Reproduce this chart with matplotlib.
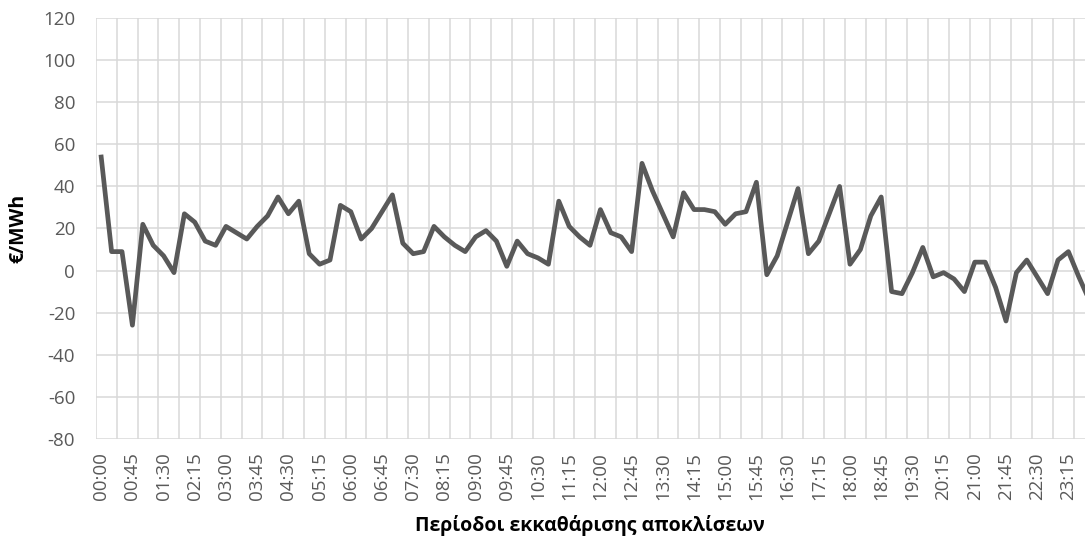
import numpy as np
import matplotlib
matplotlib.use("Agg")
import matplotlib.pyplot as plt

plt.rcParams['font.family'] = ['Open Sans', 'DejaVu Sans']
plt.rcParams['axes.unicode_minus'] = False

# 15-minute settlement periods
times = ["%02d:%02d" % (h, m) for h in range(24) for m in (0, 15, 30, 45)]

prices = [54, 9, 9, -26, 22, 12, 7, -1, 27, 23, 14, 12,
          21, 18, 15, 21, 26, 35, 27, 33, 8, 3, 5, 31,
          28, 15, 20, 28, 36, 13, 8, 9, 21, 16, 12, 9,
          16, 19, 14, 2, 14, 8, 6, 3, 33, 21, 16, 12,
          29, 18, 16, 9, 51, 38, 27, 16, 37, 29, 29, 28,
          22, 27, 28, 42, -2, 7, 23, 39, 8, 14, 27, 40,
          3, 10, 26, 35, -10, -11, -1, 11, -3, -1, -4, -10,
          4, 4, -8, -24, -1, 5, -3, -11, 5, 9, -3, -14]

y_ticks = list(range(-80, 121, 20))

fig = plt.figure(figsize=(10.85, 5.39), dpi=100)
# plot area runs a little past the right edge, as in the cropped original
ax = fig.add_axes([96 / 1085, (539 - 438.7) / 539, 998.4 / 1085, 420.4 / 539])

x = np.arange(len(prices))
ax.plot(x, prices, color='#595959', linewidth=3.4, solid_joinstyle='round', zorder=3)

ax.set_xlim(-0.5, len(prices) - 0.5)
ax.set_ylim(-80, 120)
ax.set_yticks(y_ticks)
ax.set_xticks(x[::3])
ax.set_xticklabels(times[::3], rotation=90)
ax.set_xticks(np.arange(-0.5, len(prices), 2), minor=True)

ax.grid(axis='y', which='major', color='#d9d9d9', linewidth=1.1)
ax.grid(axis='x', which='minor', color='#d9d9d9', linewidth=1.1)
ax.grid(axis='x', which='major', visible=False)
for s in ax.spines.values():
    s.set_visible(False)

ax.tick_params(axis='both', which='both', length=0, labelsize=13.5, labelcolor='#595959')
ax.tick_params(axis='y', pad=15)
ax.tick_params(axis='x', pad=10)

fig.text(18 / 1085, 1 - 228 / 539, '€/MWh', rotation=90, ha='center', va='center',
         fontsize=14, fontweight='bold', color='#000000')
fig.text(590 / 1085, 1 - 526 / 539, 'Περίοδοι εκκαθάρισης αποκλίσεων', ha='center', va='center',
         fontsize=14, fontweight='bold', color='#000000')

fig.savefig('out.png', dpi=100)
